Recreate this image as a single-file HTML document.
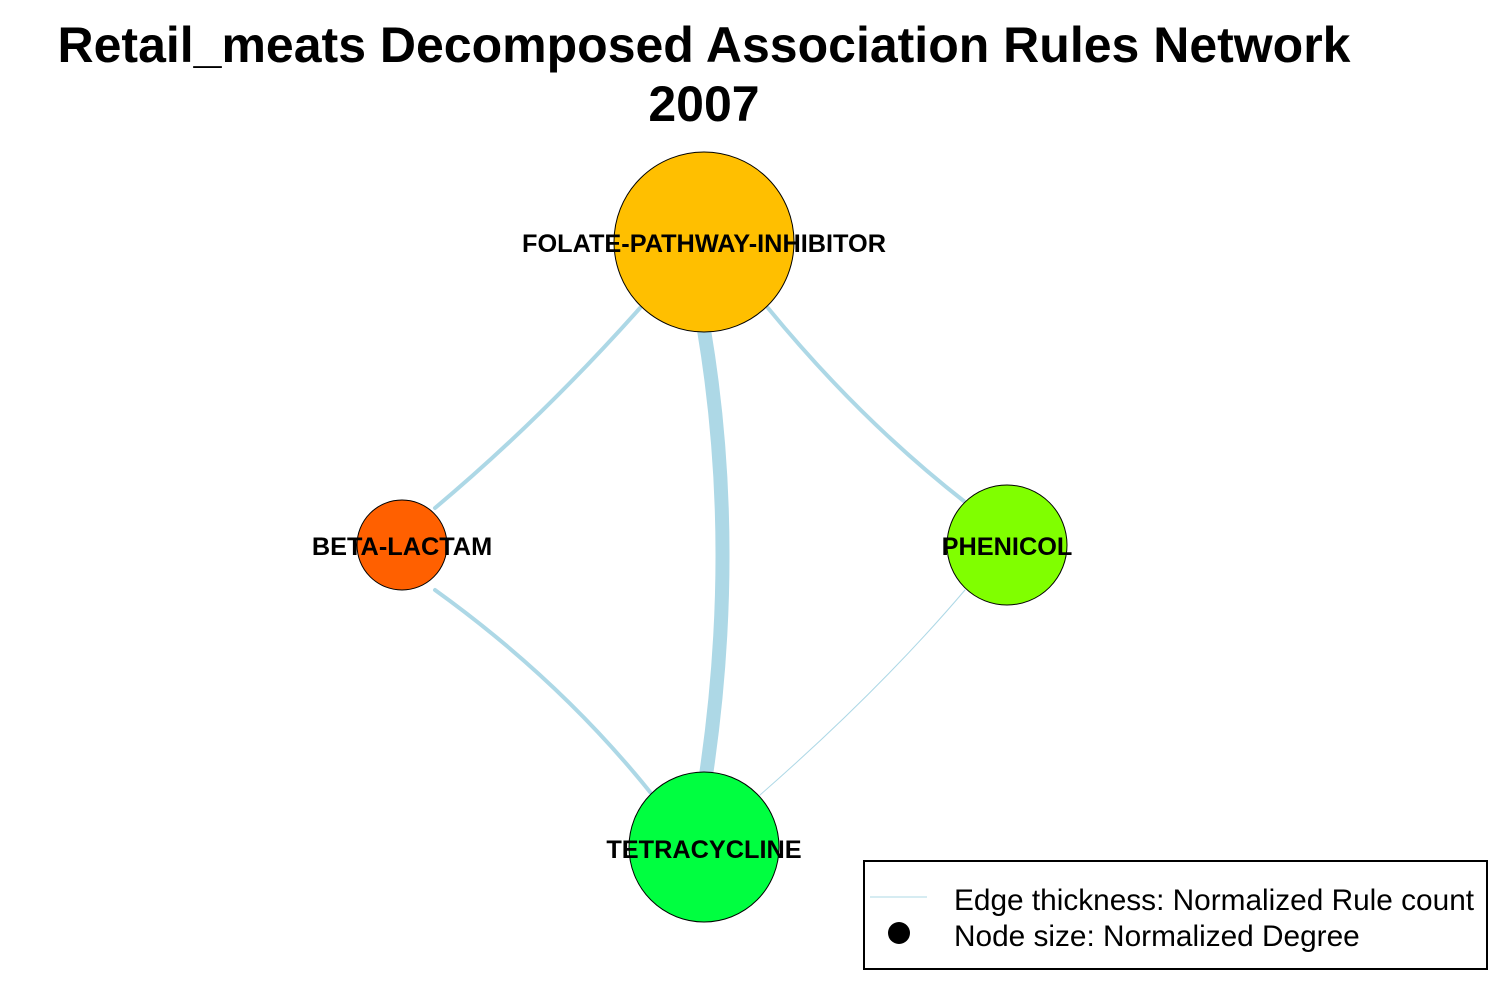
<!DOCTYPE html>
<html><head><meta charset="utf-8"><style>
html,body{margin:0;padding:0;background:#fff;width:1500px;height:1000px;overflow:hidden}
</style></head><body>
<svg width="1500" height="1000" viewBox="0 0 1500 1000" xmlns="http://www.w3.org/2000/svg" font-family="Liberation Sans, Arial, sans-serif">
<rect width="1500" height="1000" fill="#fff"/>
<text x="704" y="62" font-size="50" font-weight="bold" text-anchor="middle">Retail_meats Decomposed Association Rules Network</text>
<text x="704" y="121" font-size="50" font-weight="bold" text-anchor="middle">2007</text>
<g fill="none" stroke="#add8e6" stroke-linecap="round">
<path d="M704 330 Q740 545 706 775" stroke-width="14"/>
<path d="M640 308 Q540 420 435 508" stroke-width="4"/>
<path d="M435 590 Q560 680 650 792" stroke-width="4"/>
<path d="M768 308 Q860 420 965 502" stroke-width="4"/>
<path d="M965 590 Q880 690 760 795" stroke-width="1"/>
</g>
<g stroke="#000" stroke-width="1">
<circle cx="704" cy="242" r="90" fill="#ffbf00"/>
<circle cx="402" cy="545" r="45" fill="#ff6000"/>
<circle cx="1007" cy="545" r="60" fill="#80ff00"/>
<circle cx="704" cy="847" r="75" fill="#00ff40"/>
</g>
<g font-size="25.3" font-weight="bold" text-anchor="middle">
<text x="704" y="252">FOLATE-PATHWAY-INHIBITOR</text>
<text x="402" y="555">BETA-LACTAM</text>
<text x="1007" y="555">PHENICOL</text>
<text x="704" y="858">TETRACYCLINE</text>
</g>
<rect x="864" y="861" width="623" height="108" fill="#fff" stroke="#000" stroke-width="2"/>
<line x1="870" y1="897" x2="927" y2="897" stroke="#add8e6" stroke-width="1"/>
<circle cx="899" cy="933" r="11" fill="#000"/>
<text x="954" y="910" font-size="29.8">Edge thickness: Normalized Rule count</text>
<text x="954" y="946" font-size="29.8">Node size: Normalized Degree</text>
</svg>
</body></html>
